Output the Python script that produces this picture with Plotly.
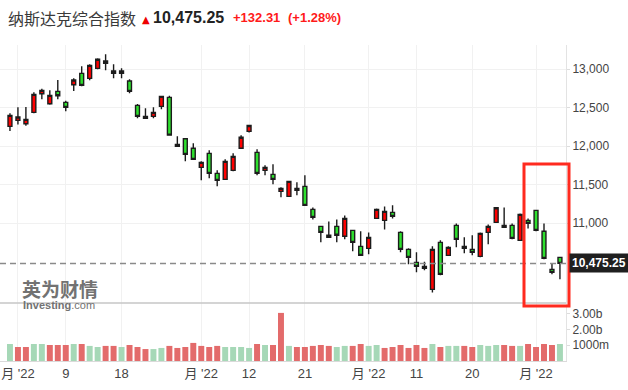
import plotly.graph_objects as go
from plotly.subplots import make_subplots

dates = ["2022-07-29",
         "2022-08-01", "2022-08-02", "2022-08-03", "2022-08-04", "2022-08-05",
         "2022-08-08", "2022-08-09", "2022-08-10", "2022-08-11", "2022-08-12",
         "2022-08-15", "2022-08-16", "2022-08-17", "2022-08-18", "2022-08-19",
         "2022-08-22", "2022-08-23", "2022-08-24", "2022-08-25", "2022-08-26",
         "2022-08-29", "2022-08-30", "2022-08-31", "2022-09-01", "2022-09-02",
         "2022-09-06", "2022-09-07", "2022-09-08", "2022-09-09",
         "2022-09-12", "2022-09-13", "2022-09-14", "2022-09-15", "2022-09-16",
         "2022-09-19", "2022-09-20", "2022-09-21", "2022-09-22", "2022-09-23",
         "2022-09-26", "2022-09-27", "2022-09-28", "2022-09-29", "2022-09-30",
         "2022-10-03", "2022-10-04", "2022-10-05", "2022-10-06", "2022-10-07",
         "2022-10-10", "2022-10-11", "2022-10-12", "2022-10-13", "2022-10-14",
         "2022-10-17", "2022-10-18", "2022-10-19", "2022-10-20", "2022-10-21",
         "2022-10-24", "2022-10-25", "2022-10-26", "2022-10-27", "2022-10-28",
         "2022-10-31", "2022-11-01", "2022-11-02", "2022-11-03", "2022-11-04"]

opens = [12255, 12333, 12289, 12437, 12679, 12549, 12710, 12567, 12796, 12944,
         12879, 13009, 13074, 12974, 12944, 12844, 12528, 12359, 12385, 12515,
         12632, 12021, 12095, 11970, 11723, 11905, 11645, 11567, 11684, 11970,
         12190, 11918, 11684, 11632, 11411, 11346, 11450, 11476, 11177, 10956,
         10840, 10956, 10827, 10904, 10697, 10671, 11060, 11034, 11138, 10878,
         10658, 10489, 10437, 10138, 10749, 10580, 10969, 10697, 10658, 10567,
         10878, 11008, 10943, 10969, 10775, 11034, 11164, 10892, 10398, 10554]
highs = [12424, 12502, 12506, 12697, 12744, 12723, 12857, 12588, 12879, 13035,
         13061, 13139, 13191, 13061, 13009, 12866, 12545, 12489, 12502, 12653,
         12653, 12126, 12100, 12035, 11801, 11944, 11684, 11827, 11905, 12139,
         12272, 11957, 11749, 11762, 11463, 11545, 11528, 11619, 11203, 10962,
         11021, 11047, 11099, 10910, 10892, 10878, 11190, 11216, 11229, 10892,
         10671, 10619, 10497, 10697, 10775, 10697, 10995, 10814, 10840, 10878,
         10982, 11203, 11203, 10995, 11125, 11060, 11170, 10995, 10476, 10560]
lows = [12194, 12281, 12263, 12424, 12606, 12536, 12606, 12450, 12714, 12775,
        12853, 12998, 12983, 12879, 12879, 12684, 12359, 12352, 12359, 12476,
        12138, 11990, 11801, 11820, 11554, 11580, 11476, 11560, 11671, 11965,
        12177, 11619, 11619, 11502, 11333, 11340, 11359, 11225, 11047, 10749,
        10808, 10749, 10788, 10632, 10575, 10593, 11055, 10917, 11060, 10619,
        10463, 10359, 10385, 10099, 10321, 10575, 10684, 10606, 10580, 10554,
        10723, 11003, 10940, 10788, 10770, 10930, 10892, 10528, 10333, 10268]
closes = [12398, 12376, 12346, 12671, 12723, 12658, 12653, 12502, 12857, 12788,
          13048, 13126, 13104, 12944, 12974, 12710, 12385, 12385, 12437, 12645,
          12141, 11996, 11892, 11827, 11788, 11645, 11554, 11801, 11866, 12113,
          12266, 11645, 11723, 11567, 11450, 11541, 11424, 11229, 11073, 10878,
          10814, 10840, 11060, 10749, 10580, 10814, 11177, 11151, 11086, 10658,
          10554, 10437, 10411, 10658, 10333, 10684, 10788, 10671, 10619, 10865,
          10956, 11199, 10969, 10801, 11112, 10995, 10904, 10541, 10359, 10475.25]

# volume in billions of shares
volumes = [1.08, 0.89, 0.89, 1.08, 1.08, 1.02, 1.02, 1.02, 1.08, 1.08,
           0.96, 0.89, 0.96, 0.96, 0.89, 1.02, 0.89, 0.76, 0.76, 0.83,
           0.96, 0.83, 0.89, 1.15, 0.96, 0.89, 0.96, 0.89, 0.89, 0.89,
           0.83, 1.08, 1.02, 1.02, 3.06, 0.96, 0.89, 0.89, 0.96, 1.02,
           0.96, 0.89, 0.96, 0.96, 1.08, 0.96, 1.02, 0.83, 0.89, 1.02,
           0.83, 1.02, 0.83, 1.08, 0.89, 0.96, 0.96, 0.96, 0.89, 1.02,
           0.96, 1.02, 1.02, 0.96, 0.96, 1.08, 0.89, 1.08, 1.02, 1.08]
vol_dir = "GRRGGRRRGRGGRRGRRRGGRRRRRRRGGGGRGRRGRRRRRGGRRGGRRRRRRGRGGRRGGGRRGRRRRG"

tick_dates = ["2022-08-01", "2022-08-09", "2022-08-18", "2022-09-01", "2022-09-12",
              "2022-09-21", "2022-10-03", "2022-10-11", "2022-10-20", "2022-11-01"]
tick_labels = ["月 '22", "9", "18", "月 '22", "12", "21", "月 '22", "11", "20", "月 '22"]

price_ticks = [11000, 11500, 12000, 12500, 13000]
vol_ticks = [1, 2, 3]
vol_tick_labels = ["1000m", "2.00b", "3.00b"]

last_close = closes[-1]
change = 132.31
change_pct = 1.28

W, H = 628, 390
ML, MR, MT, MB = 0, 62, 45, 29
PW = W - ML - MR
PH = H - MT - MB


def px_x(px):
    return (px - ML) / PW


def px_y(py):
    return (H - MB - py) / PH


vol_frac = 58 / PH
fig = make_subplots(rows=2, cols=1, shared_xaxes=True, vertical_spacing=0,
                    row_heights=[1 - vol_frac, vol_frac])

fig.add_trace(go.Candlestick(
    x=dates, open=opens, high=highs, low=lows, close=closes,
    increasing=dict(fillcolor="#ff0000", line=dict(color="#1c1c1c", width=1.4)),
    decreasing=dict(fillcolor="#2ee02e", line=dict(color="#1c1c1c", width=1.4)),
    whiskerwidth=0, showlegend=False, hoverinfo="skip"), row=1, col=1)

vol_colors = ["#a6d8b7" if d == "G" else "#e36b6b" for d in vol_dir]
fig.add_trace(go.Bar(
    x=dates, y=volumes, width=0.75,
    marker=dict(color=vol_colors, line=dict(width=0)),
    showlegend=False, hoverinfo="skip"), row=2, col=1)

xr = [-1.25, 69.76]
fig.update_xaxes(type="category", categoryorder="array", categoryarray=dates,
                 range=xr, tickvals=tick_dates, ticktext=tick_labels,
                 showgrid=True, gridcolor="#f1f1f1", gridwidth=1, ticks="",
                 zeroline=False, rangeslider_visible=False)
fig.update_xaxes(showticklabels=False, row=1, col=1)
fig.update_xaxes(showline=True, linecolor="#dadada", linewidth=1,
                 tickfont=dict(size=13, color="#444444"), row=2, col=1)

fig.update_yaxes(side="right", range=[9961, 13312], tickvals=price_ticks,
                 tickformat=",", showgrid=True, gridcolor="#f1f1f1", zeroline=False,
                 showline=True, linecolor="#e3e3e3", ticks="outside", ticklen=3,
                 tickcolor="#dddddd", tickfont=dict(size=12, color="#444444"),
                 row=1, col=1)
fig.update_yaxes(side="right", range=[0, 3.69], tickvals=vol_ticks,
                 ticktext=vol_tick_labels, showgrid=False, zeroline=False,
                 showline=True, linecolor="#e3e3e3", ticks="outside", ticklen=3,
                 tickcolor="#dddddd", tickfont=dict(size=12, color="#444444"),
                 row=2, col=1)

shapes = [
    # separator between price and volume panels
    dict(type="line", xref="paper", yref="paper", x0=0, x1=1, y0=vol_frac, y1=vol_frac,
         line=dict(color="#c6c6c6", width=1.5)),
    # last price dashed line
    dict(type="line", xref="paper", yref="y", x0=0, x1=1, y0=last_close, y1=last_close,
         line=dict(color="#8a8a8a", width=1.5, dash="6px,4px")),
    # red highlight box
    dict(type="rect", xref="paper", yref="paper",
         x0=px_x(524), x1=px_x(569), y0=px_y(306), y1=px_y(164),
         line=dict(color="#ff2a1f", width=3)),
]

ann = []
ty = px_y(18)
ann.append(dict(text="纳斯达克综合指数", x=px_x(6), y=ty, xref="paper", yref="paper",
                xanchor="left", yanchor="middle", showarrow=False,
                font=dict(size=16, color="#3a3a3a", family="Noto Sans CJK SC")))
ann.append(dict(text="▲", x=px_x(140), y=px_y(19), xref="paper", yref="paper",
                xanchor="left", yanchor="middle", showarrow=False,
                font=dict(size=10, color="#ee0000", family="DejaVu Sans")))
ann.append(dict(text="<b>{:,.2f}</b>".format(last_close), x=px_x(151), y=ty,
                xref="paper", yref="paper", xanchor="left", yanchor="middle",
                showarrow=False,
                font=dict(size=16, color="#222222", family="Liberation Sans")))
ann.append(dict(text="<b>+{:.2f}</b>".format(change), x=px_x(231), y=ty,
                xref="paper", yref="paper", xanchor="left", yanchor="middle",
                showarrow=False,
                font=dict(size=13, color="#ff1a1a", family="Liberation Sans")))
ann.append(dict(text="<b>(+{:.2f}%)</b>".format(change_pct), x=px_x(286), y=ty,
                xref="paper", yref="paper", xanchor="left", yanchor="middle",
                showarrow=False,
                font=dict(size=13, color="#ff1a1a", family="Liberation Sans")))
# watermark
ann.append(dict(text="<b>英为财情</b>", x=px_x(21), y=px_y(288), xref="paper", yref="paper",
                xanchor="left", yanchor="middle", showarrow=False, borderpad=0,
                font=dict(size=19, color="#727272", family="Noto Sans CJK SC")))
ann.append(dict(text="<b>Investing</b>.com", x=px_x(22), y=px_y(305), xref="paper",
                yref="paper", xanchor="left", yanchor="middle", showarrow=False,
                borderpad=0,
                font=dict(size=11, color="#727272", family="Liberation Sans")))
# last price label
ann.append(dict(text="<b>{:,.2f}</b>".format(last_close), x=1, y=last_close,
                xref="paper", yref="y", xanchor="left", yanchor="middle", xshift=3,
                showarrow=False, bgcolor="#1f1f1f", borderpad=2,
                font=dict(size=12, color="#ffffff", family="Liberation Sans")))

fig.update_layout(
    width=W, height=H,
    margin=dict(l=ML, r=MR, t=MT, b=MB),
    paper_bgcolor="white", plot_bgcolor="white",
    font=dict(family="Liberation Sans, Noto Sans CJK SC", size=12, color="#444444"),
    shapes=shapes, annotations=ann, showlegend=False,
    bargap=0.25,
)

fig.write_html("out.html", config={"displayModeBar": False},
               post_script="document.body.style.margin='0px';document.body.style.padding='0px';")
